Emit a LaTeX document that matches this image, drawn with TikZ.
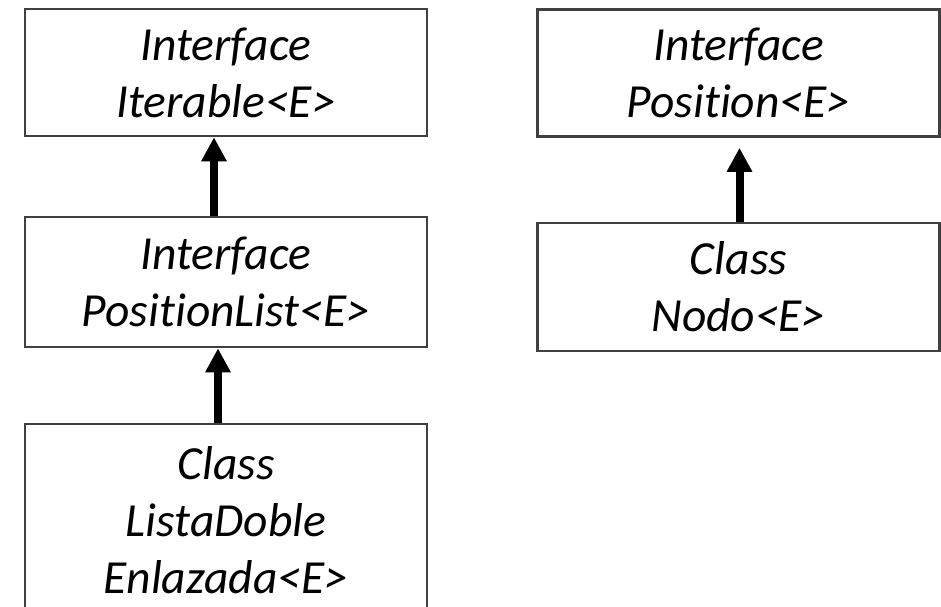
\documentclass[tikz,border=0pt]{standalone}
\usepackage{fontspec}
\setmainfont{Carlito}[Ligatures=CommonOff]
\usetikzlibrary{arrows.meta}
\begin{document}
\begin{tikzpicture}[x=1pt,y=-1pt,
  umlbox/.style={draw=black!75, line width=2.6pt, fill=white, rectangle, inner sep=0pt,
    minimum width=402pt, align=center,
    font=\fontsize{47.5}{57}\selectfont\itshape},
  inherit/.style={line width=8pt, -{Triangle[width=24pt,length=24pt]}}]
\clip (0,0) rectangle (941,606);
\fill[white] (0,0) rectangle (941,606);
\node[umlbox, minimum height=127pt] (iter) at (226,72.5) {Interface\\Iterable<E>};
\node[umlbox, minimum height=130pt] (plist) at (226,282) {Interface\\PositionList<E>};
\node[umlbox, minimum height=192pt] (ldoble) at (226,520) {Class\\ListaDoble\\Enlazada<E>};
\node[umlbox, minimum height=127pt] (pos) at (738.5,73) {Interface\\Position<E>};
\node[umlbox, minimum height=128pt] (nodo) at (738.5,287) {Class\\Nodo<E>};
\draw[inherit] ([xshift=-12pt]plist.north) -- ([xshift=-12pt]iter.south);
\draw[inherit] ([xshift=-8pt]ldoble.north) -- ([xshift=-8pt]plist.south);
\draw[inherit, shorten >=10pt] ([xshift=1pt]nodo.north) -- ([xshift=1pt]pos.south);
\end{tikzpicture}
\end{document}
